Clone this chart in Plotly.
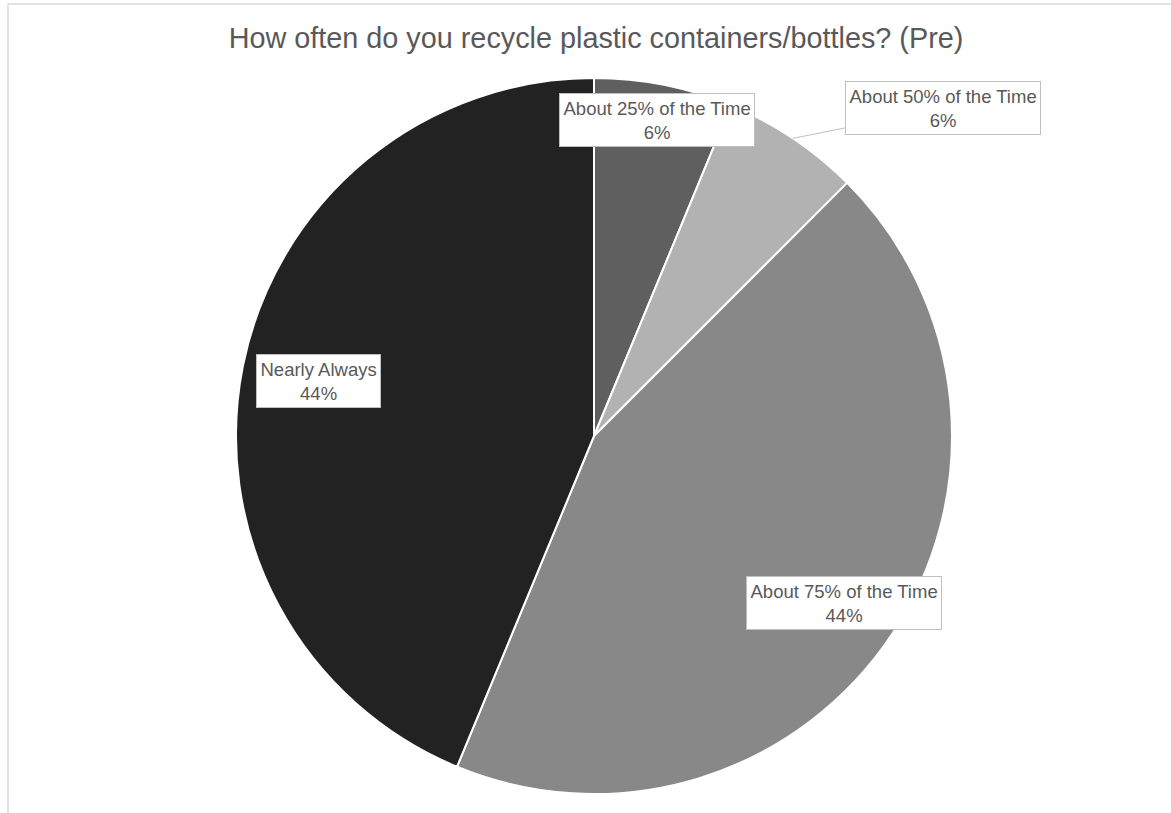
import math
import plotly.graph_objects as go

# Survey responses (counts)
categories = ["About 25% of the Time", "About 50% of the Time",
              "About 75% of the Time", "Nearly Always"]
counts = [1, 1, 7, 7]
colors = ["#5f5f5f", "#b2b2b2", "#888888", "#222222"]
title_text = "How often do you recycle plastic containers/bottles? (Pre)"

W, H = 1171, 813
cx, cy, R = 594, 436, 358  # pie centre / radius in pixels

fig = go.Figure(go.Pie(
    labels=categories,
    values=counts,
    sort=False,
    direction="clockwise",
    rotation=0,
    marker=dict(colors=colors, line=dict(color="white", width=2)),
    textinfo="none",
    hoverinfo="label+percent",
    showlegend=False,
    domain=dict(x=[(cx - R) / W, (cx + R) / W],
                y=[1 - (cy + R) / H, 1 - (cy - R) / H]),
))

total = sum(counts)
pcts = [round(100 * v / total) for v in counts]

# mid-angle of each slice (degrees clockwise from 12 o'clock)
mids = []
acc = 0
for v in counts:
    mids.append(360 * (acc + v / 2) / total)
    acc += v


def px(angle, rfrac):
    a = math.radians(angle)
    return cx + R * rfrac * math.sin(a), cy - R * rfrac * math.cos(a)


def paper(x, y):
    return x / W, 1 - y / H


label_font = dict(family="Liberation Sans, Arial, sans-serif", size=18.5, color="#595959")
box = dict(bgcolor="white", bordercolor="#bfbfbf", borderwidth=1, borderpad=3.5,
           xanchor="center", yanchor="middle", align="center")

# label placement: (radius fraction, callout offset in pixels or None)
placement = [(0.9, None), (1.0, (150, -30)), (0.84, None), (0.785, None)]

annotations = []
for cat, p, m, (rf, off) in zip(categories, pcts, mids, placement):
    text = f"{cat}<br>{p}%"
    x, y = px(m, rf)
    X, Y = paper(x, y)
    if off is None:
        annotations.append(dict(x=X, y=Y, xref="paper", yref="paper", text=text,
                                showarrow=False, font=label_font, **box))
    else:
        annotations.append(dict(x=X, y=Y, xref="paper", yref="paper", text=text,
                                showarrow=True, ax=off[0], ay=off[1], arrowhead=0,
                                arrowwidth=1, arrowcolor="#bfbfbf", standoff=0,
                                font=label_font, **box))

fig.update_layout(
    width=W, height=H,
    margin=dict(l=0, r=0, t=0, b=0),
    paper_bgcolor="white",
    title=dict(text=title_text, x=596 / W, xanchor="center", y=1 - 38 / H, yanchor="middle",
               font=dict(family="Liberation Sans, Arial, sans-serif", size=28.8, color="#595959")),
    annotations=annotations,
    shapes=[
        dict(type="line", xref="paper", yref="paper", x0=8 / W, x1=8 / W, y0=0, y1=1 - 4 / H,
             line=dict(color="#d9d9d9", width=1.5)),
        dict(type="line", xref="paper", yref="paper", x0=8 / W, x1=1, y0=1 - 4 / H, y1=1 - 4 / H,
             line=dict(color="#d9d9d9", width=1.5)),
    ],
)

fig.write_html("out.html")
